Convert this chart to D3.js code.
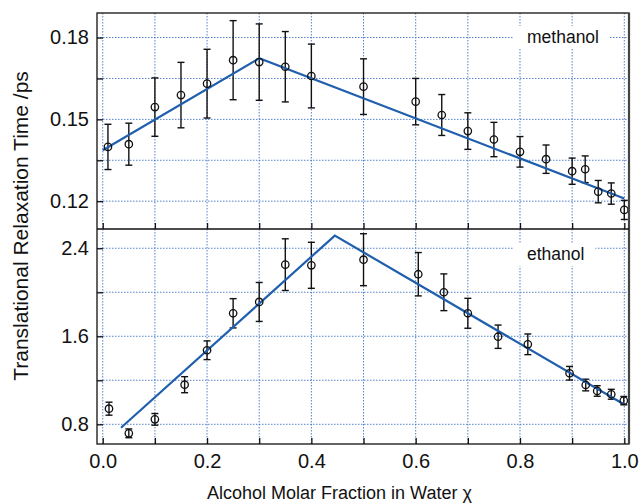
<!DOCTYPE html>
<html>
<head>
<meta charset="utf-8">
<script src="https://cdn.jsdelivr.net/npm/d3@7"></script>
<style>
  body { margin: 0; background: #fff; }
  text { font-family: "Liberation Sans", Arial, sans-serif; fill: #111; }
</style>
</head>
<body>
<script>
// data
const methanolX = [0.01, 0.05, 0.10, 0.15, 0.20, 0.25, 0.30, 0.35, 0.40, 0.50, 0.60, 0.65, 0.70, 0.75, 0.80, 0.85, 0.90, 0.925, 0.95, 0.975, 1.0];
const methanolT = [0.1399, 0.1409, 0.1545, 0.1589, 0.1631, 0.1717, 0.1710, 0.1693, 0.1659, 0.1620, 0.1565, 0.1516, 0.1457, 0.1426, 0.1381, 0.1354, 0.1310, 0.1317, 0.1235, 0.1228, 0.1168];
const methanolErr = [0.0083, 0.0077, 0.0107, 0.0120, 0.0126, 0.0145, 0.0140, 0.0129, 0.0117, 0.0102, 0.0085, 0.0075, 0.0067, 0.0063, 0.0056, 0.0052, 0.0048, 0.0049, 0.0041, 0.0039, 0.0035];
const methanolFitX = [0, 0.30, 1.0];
const methanolFitT = [0.1387, 0.1724, 0.1210];

const ethanolX = [0.012, 0.05, 0.10, 0.157, 0.20, 0.25, 0.30, 0.35, 0.40, 0.50, 0.605, 0.654, 0.70, 0.758, 0.815, 0.895, 0.926, 0.948, 0.975, 0.999];
const ethanolT = [0.942, 0.718, 0.845, 1.160, 1.473, 1.809, 1.912, 2.251, 2.245, 2.296, 2.164, 2.0, 1.809, 1.596, 1.527, 1.264, 1.157, 1.103, 1.073, 1.015];
const ethanolErr = [0.059, 0.04, 0.053, 0.073, 0.085, 0.133, 0.177, 0.235, 0.209, 0.236, 0.197, 0.167, 0.136, 0.106, 0.094, 0.062, 0.053, 0.048, 0.045, 0.038];
const ethanolFitX = [0.035, 0.445, 0.999];
const ethanolFitT = [0.769, 2.515, 0.982];

const xTicks = [0, 0.1, 0.2, 0.3, 0.4, 0.5, 0.6, 0.7, 0.8, 0.9, 1.0];
const xTickLabels = [0, 0.2, 0.4, 0.6, 0.8, 1.0];
const methanolTicks = [0.12, 0.135, 0.15, 0.165, 0.18];
const methanolTickLabels = [0.12, 0.15, 0.18];
const ethanolTicks = [0.8, 1.2, 1.6, 2.0, 2.4];
const ethanolTickLabels = [0.8, 1.6, 2.4];

const width = 640;
const height = 503;
const left = 97, right = 629;
const gridColor = '#3f74c6';
const fitColor = '#1f5fae';

const svg = d3.select('body')
  .append('svg')
  .attr('width', width)
  .attr('height', height);

const x = d3.scaleLinear()
  .domain([-0.011, 1.009])
  .range([left, right]);

function panel(top, bottom, yDomain, xs, ts, errs, fitX, fitT, ticks, tickLabels, fmt, name, nameY) {
  const y = d3.scaleLinear().domain(yDomain).range([bottom, top]);
  const g = svg.append('g');

  // grille pointillée
  g.append('g')
    .selectAll('line.vg')
    .data(xTicks)
    .enter()
    .append('line')
    .attr('x1', d => x(d)).attr('x2', d => x(d))
    .attr('y1', top).attr('y2', bottom)
    .attr('stroke', gridColor).attr('stroke-width', 0.9)
    .attr('stroke-dasharray', '1.5,1.5');
  g.append('g')
    .selectAll('line.hg')
    .data(ticks)
    .enter()
    .append('line')
    .attr('x1', left).attr('x2', right)
    .attr('y1', d => y(d)).attr('y2', d => y(d))
    .attr('stroke', gridColor).attr('stroke-width', 0.9)
    .attr('stroke-dasharray', '1.5,1.5');

  // étiquette du panneau
  const label = g.append('text')
    .attr('x', 527)
    .attr('y', nameY)
    .style('font-size', '17.5px')
    .text(name);
  const bb = label.node().getBBox();
  g.insert('rect', 'text')
    .attr('x', bb.x - 13).attr('y', bb.y - 1)
    .attr('width', bb.width + 24).attr('height', bb.height + 3)
    .attr('fill', '#fff');

  // barres d'erreur
  const pts = xs.map((d, i) => ({ x: d, t: ts[i], e: errs[i] }));
  const eb = g.append('g').attr('stroke', '#111').attr('stroke-width', 1.4);
  eb.selectAll('line.bar').data(pts).enter().append('line')
    .attr('x1', d => x(d.x)).attr('x2', d => x(d.x))
    .attr('y1', d => y(d.t - d.e)).attr('y2', d => y(d.t + d.e));
  eb.selectAll('line.cap-top').data(pts).enter().append('line')
    .attr('x1', d => x(d.x) - 3.5).attr('x2', d => x(d.x) + 3.5)
    .attr('y1', d => y(d.t + d.e)).attr('y2', d => y(d.t + d.e));
  eb.selectAll('line.cap-bot').data(pts).enter().append('line')
    .attr('x1', d => x(d.x) - 3.5).attr('x2', d => x(d.x) + 3.5)
    .attr('y1', d => y(d.t - d.e)).attr('y2', d => y(d.t - d.e));

  // droites d'ajustement
  g.append('path')
    .datum(fitX.map((d, i) => [d, fitT[i]]))
    .attr('fill', 'none')
    .attr('stroke', fitColor)
    .attr('stroke-width', 2.2)
    .attr('d', d3.line().x(d => x(d[0])).y(d => y(d[1])));

  // points
  g.append('g')
    .selectAll('circle')
    .data(pts)
    .enter()
    .append('circle')
    .attr('cx', d => x(d.x))
    .attr('cy', d => y(d.t))
    .attr('r', 3.7)
    .attr('fill', 'none')
    .attr('stroke', '#111')
    .attr('stroke-width', 1.3);

  // axe vertical (graduations intérieures)
  g.append('g')
    .attr('transform', `translate(${left}, 0)`)
    .call(d3.axisLeft(y).tickValues(ticks).tickSizeInner(-6).tickSizeOuter(0)
      .tickPadding(8).tickFormat(d => tickLabels.some(v => Math.abs(v - d) < 1e-9) ? fmt(d) : ''))
    .call(a => a.select('.domain').remove())
    .call(a => a.selectAll('line').attr('stroke', '#111').attr('stroke-width', 1.3))
    .call(a => a.selectAll('text').style('font-size', '20px').attr('fill', '#111'));

  // graduations du bas
  g.append('g')
    .attr('transform', `translate(0, ${bottom})`)
    .call(d3.axisBottom(x).tickValues(xTicks).tickSizeInner(-6).tickSizeOuter(0).tickFormat(''))
    .call(a => a.select('.domain').remove())
    .call(a => a.selectAll('line').attr('stroke', '#111').attr('stroke-width', 1.3));

  return y;
}

panel(13, 229, [0.1098, 0.189], methanolX, methanolT, methanolErr, methanolFitX, methanolFitT,
  methanolTicks, methanolTickLabels, d3.format('.2f'), 'methanol', 43);
panel(229, 444, [0.621, 2.575], ethanolX, ethanolT, ethanolErr, ethanolFitX, ethanolFitT,
  ethanolTicks, ethanolTickLabels, d3.format('.1f'), 'ethanol', 260);

// cadre
svg.append('rect')
  .attr('x', left).attr('y', 13)
  .attr('width', right - left).attr('height', 444 - 13)
  .attr('fill', 'none').attr('stroke', '#111').attr('stroke-width', 1.3);
svg.append('line')
  .attr('x1', right).attr('x2', right).attr('y1', 13).attr('y2', 444)
  .attr('stroke', '#444').attr('stroke-width', 2.2);
svg.append('line')
  .attr('x1', left).attr('x2', right).attr('y1', 229).attr('y2', 229)
  .attr('stroke', '#111').attr('stroke-width', 1.3);

// libellés de l'axe horizontal
svg.append('g')
  .attr('transform', 'translate(0, 444)')
  .call(d3.axisBottom(x).tickValues(xTickLabels).tickSize(0).tickPadding(10).tickFormat(d3.format('.1f')))
  .call(a => a.select('.domain').remove())
  .call(a => a.selectAll('text').style('font-size', '20px').attr('fill', '#111'));

// titres des axes
svg.append('text')
  .attr('x', 207)
  .attr('y', 499)
  .style('font-size', '18px')
  .text('Alcohol Molar Fraction in Water χ');

svg.append('text')
  .attr('transform', 'translate(28, 226) rotate(-90)')
  .attr('text-anchor', 'middle')
  .style('font-size', '21px')
  .text('Translational Relaxation Time /ps');
</script>
</body>
</html>
